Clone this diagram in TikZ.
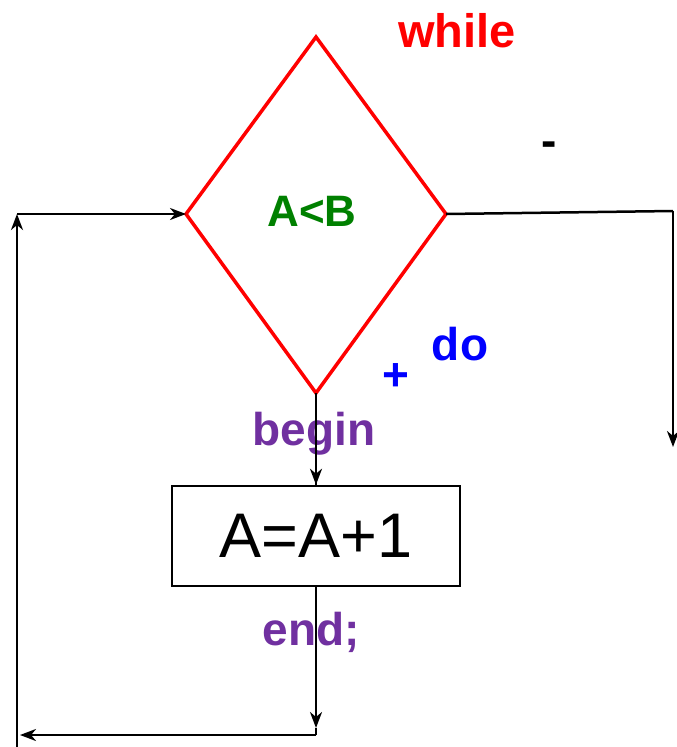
\documentclass[tikz,border=0pt]{standalone}
\usepackage{fontspec}
\setmainfont{Liberation Sans}
\usetikzlibrary{arrows.meta}
\definecolor{dgreen}{RGB}{0,128,0}
\definecolor{purp}{RGB}{112,48,160}
\begin{document}
\begin{tikzpicture}[x=1pt,y=-1pt,
  conn/.style={line width=2.5pt,-{Stealth[length=16pt,width=12pt,inset=5pt]}},
  plain/.style={line width=2.5pt},
  lbl/.style={inner sep=0pt,font=\fontsize{46}{50}\selectfont\bfseries}]
\useasboundingbox (0,0) rectangle (677,747);
% diamond
\coordinate (dt) at (316,37);
\coordinate (dl) at (186,214);
\coordinate (dr) at (446,214);
\coordinate (db) at (316,393);
\draw[red,line width=3.5pt,line join=miter] (dt) -- (dr) -- (db) -- (dl) -- cycle;
\node[lbl,text=dgreen,font=\fontsize{44}{48}\selectfont\bfseries] (cond) at (312,211) {A<B};
% box
\node[draw,line width=2.5pt,minimum width=288pt,minimum height=100pt,inner sep=0pt,
  font=\fontsize{63}{66}\selectfont] (body) at (316,536) {A=A+1};
% coordinates
\coordinate (lt) at (17,214);
\coordinate (lb) at (17,747);
\coordinate (bm) at (316,728);
\coordinate (br) at (316,735);
\coordinate (bl) at (20,735);
\coordinate (rt) at (673,211);
\coordinate (rb) at (673,447);
% connectors
\draw[conn] (db) -- (body.north);
\draw[conn] (body.south) -- (bm);
\draw[plain] (bm) -- (br);
\draw[conn] (br) -- (bl);
\draw[conn] (lb) -- (lt);
\draw[conn] (lt) -- (dl);
\draw[plain] (dr) -- (rt);
\draw[conn] (rt) -- (rb);
% labels
\node[lbl,text=red,anchor=base,font=\fontsize{47}{50}\selectfont\bfseries] (while) at (457,47) {while};
\node[lbl] (minus) at (549,149) {-};
\node[lbl,text=blue,anchor=base] (do) at (460,360) {do};
\node[lbl,text=blue] (plus) at (396,377) {+};
\node[lbl,text=purp,anchor=base] (begin) at (314,445) {begin};
\node[lbl,text=purp,anchor=base] (end) at (311,645) {end;};
\draw[plain] (db) -- (body.north);
\end{tikzpicture}
\end{document}
